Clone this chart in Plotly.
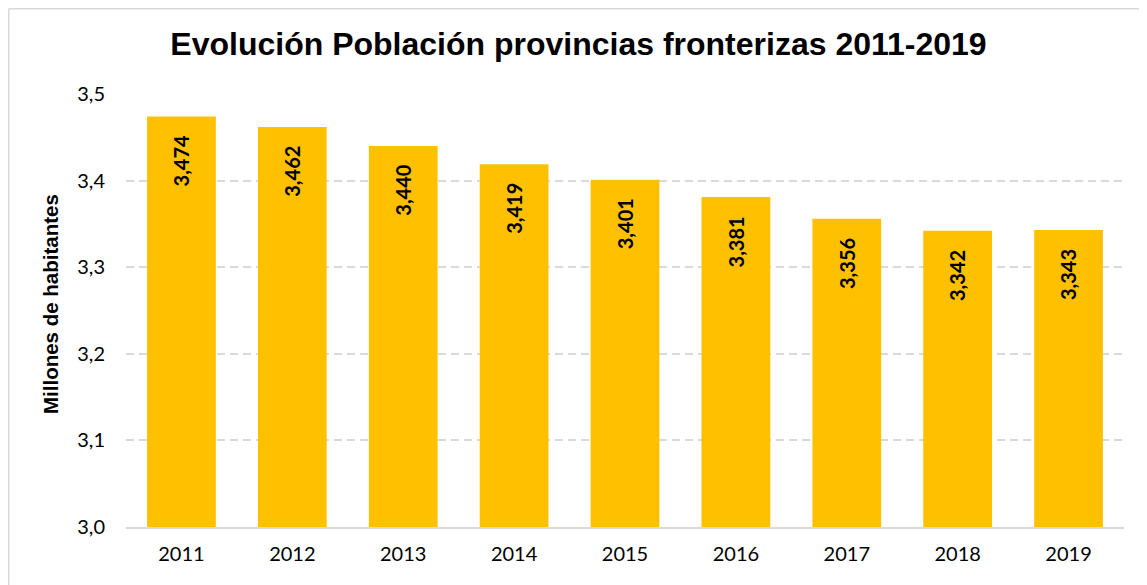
import plotly.graph_objects as go

years = ["2011", "2012", "2013", "2014", "2015", "2016", "2017", "2018", "2019"]
population = [3.474, 3.462, 3.440, 3.419, 3.401, 3.381, 3.356, 3.342, 3.343]
y_ticks = [3.0, 3.1, 3.2, 3.3, 3.4, 3.5]
y_tick_labels = ["3,0", "3,1", "3,2", "3,3", "3,4", "3,5"]

positions = list(range(len(years)))

# page body has an 8px margin, so the figure is offset by (8, 8)
W, H = 1139, 577
ML, MR, MT, MB = 118, 23, 86, 58
PW, PH = W - ML - MR, H - MT - MB

def px_to_paper_x(px):
    return (px - ML) / PW

def px_to_paper_y(py):
    return (H - MB - py) / PH

fig = go.Figure()
fig.add_trace(go.Bar(
    x=positions, y=population,
    marker=dict(color="#FFC000", line=dict(width=0)),
    width=0.62,
    hoverinfo="skip",
))

for pos, v in zip(positions, population):
    fig.add_annotation(
        x=pos, y=v, xref="x", yref="y",
        text=f"{v:.3f}".replace(".", ","),
        textangle=-90, showarrow=False,
        yanchor="top", xanchor="center", yshift=-17,
        font=dict(family="Lato", size=20, color="#000000", weight="bold"),
    )

fig.add_annotation(
    x=px_to_paper_x(42), y=px_to_paper_y(296), xref="paper", yref="paper",
    text="<b>Millones de habitantes</b>", textangle=-90, showarrow=False,
    xanchor="center", yanchor="middle",
    font=dict(family="Liberation Sans, Arial", size=20.5, color="#000000"),
)

left = px_to_paper_x(0.75)
right = px_to_paper_x(W)
top = px_to_paper_y(0.75)
bottom = px_to_paper_y(H)

fig.update_layout(
    width=W, height=H,
    margin=dict(l=ML, r=MR, t=MT, b=MB),
    paper_bgcolor="white", plot_bgcolor="white",
    showlegend=False,
    title=dict(
        text="<b>Evolución Población provincias fronterizas 2011-2019</b>",
        x=570.5 / W, xref="container", xanchor="center",
        y=1 - 36 / H, yref="container", yanchor="middle",
        font=dict(family="Liberation Sans, Arial", size=32, color="#000000"),
    ),
    xaxis=dict(
        type="linear", range=[-0.5, len(years) - 0.5],
        tickvals=positions, ticktext=years,
        showgrid=False, showline=True, linecolor="#d9d9d9", linewidth=1.5,
        zeroline=False, ticks="", tickfont=dict(family="Lato", size=20, color="#000000"),
        ticklabelstandoff=8,
    ),
    yaxis=dict(
        type="linear", range=[3.0, 3.5], tickvals=y_ticks, ticktext=y_tick_labels,
        showgrid=True, gridcolor="#d9d9d9", griddash="8px,5px", gridwidth=1.6,
        zeroline=False, showline=False, ticks="",
        tickfont=dict(family="Lato", size=20, color="#000000"),
        ticklabelstandoff=20,
    ),
    shapes=[
        dict(type="line", xref="paper", yref="paper",
             x0=left, x1=right, y0=top, y1=top,
             line=dict(color="#d9d9d9", width=1.5), layer="below"),
        dict(type="line", xref="paper", yref="paper",
             x0=left, x1=left, y0=top, y1=bottom,
             line=dict(color="#d9d9d9", width=1.5), layer="below"),
    ],
)

fig.write_html("out.html")
